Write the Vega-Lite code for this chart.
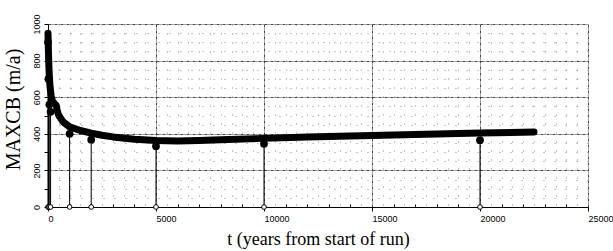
{
  "$schema": "https://vega.github.io/schema/vega-lite/v6.json",
  "width": 540,
  "height": 183,
  "autosize": {"type": "none"},
  "padding": {"left": 48, "top": 24, "right": 25, "bottom": 44},
  "background": "white",
  "config": {"view": {"stroke": null}},
  "datasets": {
    "series": [
      {"t": 0, "v": 950}, {"t": 10, "v": 900}, {"t": 20, "v": 850}, {"t": 35, "v": 790},
      {"t": 50, "v": 740}, {"t": 75, "v": 690}, {"t": 100, "v": 650}, {"t": 150, "v": 605},
      {"t": 200, "v": 580}, {"t": 300, "v": 565}, {"t": 380, "v": 555}, {"t": 430, "v": 525},
      {"t": 500, "v": 500}, {"t": 700, "v": 465}, {"t": 1000, "v": 438}, {"t": 1500, "v": 418},
      {"t": 2000, "v": 404}, {"t": 2500, "v": 392}, {"t": 3000, "v": 383}, {"t": 4000, "v": 370},
      {"t": 5000, "v": 363}, {"t": 6000, "v": 361}, {"t": 7000, "v": 363}, {"t": 8000, "v": 367},
      {"t": 10000, "v": 375}, {"t": 12000, "v": 382}, {"t": 14000, "v": 388}, {"t": 16000, "v": 394},
      {"t": 18000, "v": 399}, {"t": 20000, "v": 404}, {"t": 22000, "v": 409}, {"t": 22500, "v": 410}
    ],
    "stems": [
      {"t": 0, "v": 900}, {"t": 20, "v": 700}, {"t": 60, "v": 560}, {"t": 120, "v": 520},
      {"t": 1000, "v": 400}, {"t": 2000, "v": 368}, {"t": 5000, "v": 332},
      {"t": 10000, "v": 345}, {"t": 20000, "v": 365}
    ]
  },
  "encoding": {
    "x": {
      "field": "t", "type": "quantitative",
      "scale": {"domain": [0, 25000], "nice": false, "zero": false},
      "axis": {
        "values": [0,500,1000,1500,2000,2500,3000,3500,4000,4500,5000,5500,6000,6500,7000,7500,8000,8500,9000,9500,10000,10500,11000,11500,12000,12500,13000,13500,14000,14500,15000,15500,16000,16500,17000,17500,18000,18500,19000,19500,20000,20500,21000,21500,22000,22500,23000,23500,24000,24500,25000],
        "labelExpr": "datum.value % 5000 == 0 ? format(datum.value, 'd') : ''",
        "labelAlign": "left",
        "labelFont": "Liberation Sans",
        "labelFontSize": 9,
        "labelColor": "black",
        "labelPadding": 3,
        "labelOverlap": false,
        "labelFlush": false,
        "domainColor": "black",
        "domainWidth": 1,
        "tickColor": "black",
        "tickSize": {"condition": {"test": "datum.value % 5000 == 0", "value": 4}, "value": -3},
        "tickOpacity": {"condition": {"test": "datum.value % 1000 == 0", "value": 1}, "value": 0},
        "grid": true,
        "gridColor": {"condition": {"test": "datum.value % 5000 == 0", "value": "#444"}, "value": "#888"},
        "gridDash": {"condition": {"test": "datum.value % 5000 == 0", "value": [3, 1, 1, 1]}, "value": [1, 8]},
        "gridOpacity": 1,
        "gridWidth": 1,
        "title": "t (years from start of run)",
        "titleFont": "Liberation Serif",
        "titleFontSize": 18,
        "titleFontWeight": "normal",
        "titleColor": "black",
        "titlePadding": 7
      }
    },
    "y": {
      "field": "v", "type": "quantitative",
      "scale": {"domain": [0, 1000], "nice": false},
      "axis": {
        "values": [0,50,100,150,200,250,300,350,400,450,500,550,600,650,700,750,800,850,900,950,1000],
        "labelExpr": "datum.value % 200 == 0 ? format(datum.value, 'd') : ''",
        "labelAngle": -90,
        "labelAlign": "center",
        "labelBaseline": "bottom",
        "labelFont": "Liberation Sans",
        "labelFontSize": 9,
        "labelColor": "black",
        "labelPadding": 3,
        "labelOverlap": false,
        "labelFlush": false,
        "domainColor": "black",
        "domainWidth": 1,
        "tickColor": "black",
        "tickSize": 4,
        "tickOpacity": {"condition": {"test": "datum.value % 100 == 0", "value": 1}, "value": 0},
        "grid": true,
        "gridColor": {"condition": {"test": "datum.value % 200 == 0", "value": "#444"}, "value": "#888"},
        "gridDash": {"condition": {"test": "datum.value % 200 == 0", "value": [3, 1, 1, 1]}, "value": [1, 10]},
        "gridOpacity": 1,
        "gridWidth": 1,
        "title": "MAXCB (m/a)",
        "titleFont": "Liberation Serif",
        "titleFontSize": 20,
        "titleFontWeight": "normal",
        "titleColor": "black",
        "titlePadding": 9,
        "titleY": 85
      }
    }
  },
  "layer": [
    {
      "data": {"name": "stems"},
      "mark": {"type": "rule", "color": "black", "strokeWidth": 1},
      "encoding": {"y2": {"datum": 0}}
    },
    {
      "data": {"name": "series"},
      "mark": {"type": "line", "color": "black", "strokeWidth": 7, "strokeJoin": "round", "strokeCap": "round"},
      "encoding": {}
    },
    {
      "data": {"name": "stems"},
      "mark": {"type": "point", "shape": "circle", "filled": true, "color": "black", "size": 60, "opacity": 1},
      "encoding": {}
    },
    {
      "data": {"name": "stems"},
      "mark": {"type": "point", "shape": "circle", "filled": false, "fill": "white", "color": "black", "size": 22, "strokeWidth": 1, "opacity": 1},
      "encoding": {
        "y": {"datum": 0, "type": "quantitative"}
      }
    }
  ]
}
